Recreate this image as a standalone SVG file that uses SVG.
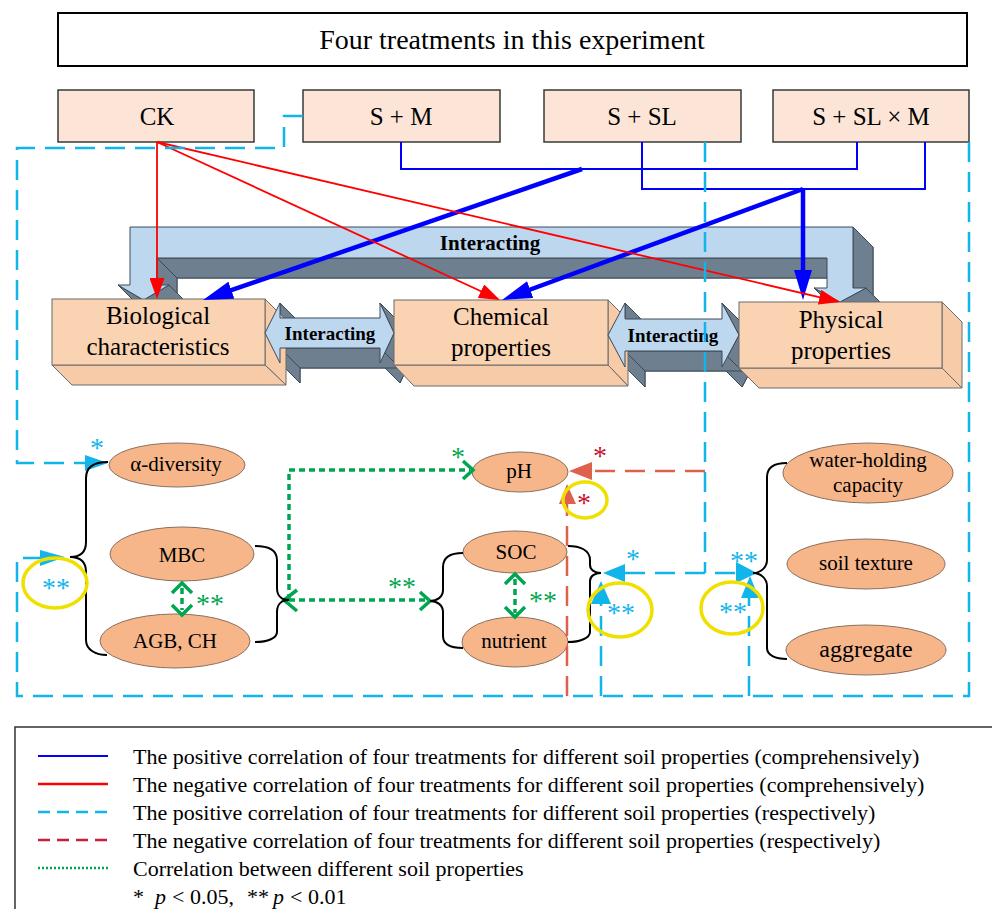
<svg xmlns="http://www.w3.org/2000/svg" width="992" height="909" viewBox="0 0 992 909">
<defs>
<style>
text{font-family:"Liberation Serif","Times New Roman","DejaVu Serif",serif;fill:#000}
.tbox{fill:#FCE4D6;stroke:#3a3a3a;stroke-width:1.5}
.front{fill:#FAD3B2;stroke:#6a6a6a;stroke-width:1}
.side{fill:#F7CBA8;stroke:#6a6a6a;stroke-width:1}
.lb{fill:#BDD7EE;stroke:#3c4a58;stroke-width:1}
.dk{fill:#6E7F8F;stroke:#3c4a58;stroke-width:1;stroke-linejoin:round}
.ell{fill:#F6B68A;stroke:#8a7060;stroke-width:1}
.et{font-size:21px;text-anchor:middle}
.bt{font-size:25px;text-anchor:middle}
.it{font-size:19px;font-weight:bold;text-anchor:middle}
.blue{stroke:#0000FF;fill:none}
.red{stroke:#FF0000;fill:none;stroke-width:1.8}
.cy{stroke:#12B5EA;fill:none;stroke-width:2.5;stroke-dasharray:20 10}
.rd{stroke:#E0604E;fill:none;stroke-width:2.5;stroke-dasharray:20 10}
.gr{stroke:#00A550;fill:none;stroke-width:3.5;stroke-dasharray:6 4}
.chev{stroke:#00A550;fill:none;stroke-width:3.5}
.br{stroke:#000;fill:none;stroke-width:2}
.cyf{fill:#12B5EA}
.rdf{fill:#E0604E}
.st{font-size:28px;text-anchor:middle}
.sc{fill:#12B5EA}
.sg{fill:#00A550}
.sr{fill:#C8102E}
.yc{fill:none;stroke:#F0E000;stroke-width:3.5}
.lg{font-size:22px}
</style>
<marker id="ab" viewBox="0 0 30 18" refX="20" refY="9" markerWidth="30" markerHeight="18" markerUnits="userSpaceOnUse" orient="auto"><path d="M0,0 L30,9 L0,18 z" fill="#0000FF"/></marker>
<marker id="ar" viewBox="0 0 21 15" refX="18" refY="7.5" markerWidth="21" markerHeight="15" markerUnits="userSpaceOnUse" orient="auto"><path d="M0,0 L21,7.5 L0,15 z" fill="#FF0000"/></marker>
</defs>
<rect width="992" height="909" fill="#fff"/>

<g id="title">
<rect x="58" y="13" width="909" height="53" fill="#fff" stroke="#000" stroke-width="2"/>
<text x="512" y="49" font-size="28" text-anchor="middle">Four treatments in this experiment</text>
</g>

<g id="ck"><rect class="tbox" x="58" y="90" width="196" height="52"/><text class="bt" x="157" y="125">CK</text></g>
<g id="s-m"><rect class="tbox" x="303" y="90" width="197" height="52"/><text class="bt" x="401" y="125">S + M</text></g>
<g id="s-sl"><rect class="tbox" x="544" y="90" width="197" height="52"/><text class="bt" x="642" y="125">S + SL</text></g>
<g id="s-sl-m"><rect class="tbox" x="773" y="90" width="196" height="52"/><text class="bt" x="871" y="125">S + SL × M</text></g>

<g id="interacting-top">
<polygon class="dk" points="150,247 873,247 873,308 886,308 860,322 834,308 847,308 847,278 177,278 177,305 189,305 163.5,320 138,305 150,305"/>
<polygon class="dk" points="853,227 853,288 873,308 873,247"/>
<polygon class="dk" points="866,288 840,302 860,322 886,308"/>
<polygon class="dk" points="840,302 814,288 834,308 860,322"/>
<polygon class="dk" points="827,258 157,258 177,278 847,278"/>
<polygon class="dk" points="157,258 157,285 177,305 177,278"/>
<polygon class="dk" points="169,285 143.5,300 163.5,320 189,305"/>
<polygon class="dk" points="143.5,300 118,285 138,305 163.5,320"/>
<polygon class="lb" points="130,227 853,227 853,288 866,288 840,302 814,288 827,288 827,258 157,258 157,285 169,285 143.5,300 118,285 130,285"/>
<text x="490" y="250" font-size="21" font-weight="bold" text-anchor="middle">Interacting</text>
</g>

<g id="interacting-bio-chem-depth">
<polygon class="dk" points="285,353 300,323 300,338 400,338 400,323 414,353 400,383 400,368 300,368 300,383"/>
<polygon class="dk" points="280,303 280,318 300,338 300,323"/>
<polygon class="dk" points="380,303 394,333 414,353 400,323"/>
<polygon class="dk" points="394,333 380,363 400,383 414,353"/>
<polygon class="dk" points="380,348 280,348 300,368 400,368"/>
<polygon class="dk" points="280,348 280,363 300,383 300,368"/>
</g>
<g id="interacting-chem-phys-depth">
<polygon class="dk" points="628,355 645,323 645,339 742,339 742,323 759,355 742,387 742,371 645,371 645,387"/>
<polygon class="dk" points="625,303 625,319 645,339 645,323"/>
<polygon class="dk" points="722,303 739,335 759,355 742,323"/>
<polygon class="dk" points="739,335 722,367 742,387 759,355"/>
<polygon class="dk" points="722,351 625,351 645,371 742,371"/>
<polygon class="dk" points="625,351 625,367 645,387 645,371"/>
</g>

<g id="biological">
<polygon class="side" points="265,299 286,320 286,385 265,365"/>
<polygon class="side" points="52,365 265,365 286,385 72,385"/>
<rect class="front" x="52" y="299" width="213" height="66"/>
<text class="bt" x="158" y="324">Biological</text>
<text class="bt" x="158" y="355">characteristics</text>
</g>
<g id="chemical">
<polygon class="side" points="608,300 628,320 628,386 608,365"/>
<polygon class="side" points="394,365 608,365 628,386 414,386"/>
<rect class="front" x="394" y="300" width="214" height="65"/>
<text class="bt" x="501" y="325">Chemical</text>
<text class="bt" x="501" y="356">properties</text>
</g>
<g id="physical">
<polygon class="side" points="942,302 962,322 962,388 942,368"/>
<polygon class="side" points="739,368 942,368 962,388 759,388"/>
<rect class="front" x="739" y="302" width="203" height="66"/>
<text class="bt" x="841" y="328">Physical</text>
<text class="bt" x="841" y="359">properties</text>
</g>

<g id="interacting-bio-chem">
<polygon class="lb" points="265,333 280,303 280,318 380,318 380,303 394,333 380,363 380,348 280,348 280,363"/>
<text class="it" x="330" y="340">Interacting</text>
</g>
<g id="interacting-chem-phys">
<polygon class="lb" points="608,335 625,303 625,319 722,319 722,303 739,335 722,367 722,351 625,351 625,367"/>
<text class="it" x="673" y="342">Interacting</text>
</g>

<g id="alpha-diversity"><ellipse class="ell" cx="177" cy="465" rx="68" ry="22"/><text class="et" x="176" y="471">α-diversity</text></g>
<g id="mbc"><ellipse class="ell" cx="182" cy="554" rx="72" ry="27"/><text class="et" x="182" y="562">MBC</text></g>
<g id="agb-ch"><ellipse class="ell" cx="175" cy="641" rx="75" ry="27"/><text class="et" x="175" y="648">AGB, CH</text></g>
<g id="ph"><ellipse class="ell" cx="520" cy="472" rx="48" ry="20"/><text class="et" x="519" y="478">pH</text></g>
<g id="soc"><ellipse class="ell" cx="515" cy="552" rx="52" ry="21"/><text class="et" x="516" y="559">SOC</text></g>
<g id="nutrient"><ellipse class="ell" cx="515" cy="642" rx="53" ry="25"/><text class="et" x="514" y="648">nutrient</text></g>
<g id="water-holding"><ellipse class="ell" cx="868" cy="473" rx="85" ry="30"/><text class="et" x="868" y="467">water-holding</text><text class="et" x="868" y="492">capacity</text></g>
<g id="soil-texture"><ellipse class="ell" cx="866" cy="564" rx="79" ry="25"/><text class="et" x="866" y="570">soil texture</text></g>
<g id="aggregate"><ellipse class="ell" cx="866" cy="650" rx="80" ry="25"/><text x="866" y="657" font-size="24" text-anchor="middle">aggregate</text></g>

<g id="connectors">
<path class="blue" stroke-width="2" d="M401,142 V169 H857 V142"/>
<path class="blue" stroke-width="2" d="M642,142 V189 H925 V142"/>
<path class="blue" stroke-width="4.5" marker-end="url(#ab)" d="M582,169 L212.5,296.7"/>
<path class="blue" stroke-width="4.5" marker-end="url(#ab)" d="M803,189 V290"/>
<path class="blue" stroke-width="4.5" marker-end="url(#ab)" d="M803,189 L511.4,296.5"/>
<path class="red" marker-end="url(#ar)" d="M157,142 V296"/>
<path class="red" marker-end="url(#ar)" d="M157,142 L497.3,298.7"/>
<path class="red" marker-end="url(#ar)" d="M157,142 L837.1,301.3"/>

<path class="cy" d="M303,116 H284 V148 H17 V463 H86"/>
<path class="cy" d="M969,142 V696 H17 V558 H42"/>
<path class="cy" d="M705,142 V573"/>
<path class="cy" d="M625,573 H736"/>
<path class="cy" d="M601,696 V604"/>
<path class="cy" d="M749,696 V598"/>
<polygon class="cyf" points="85,455 108,463 85,471"/>
<polygon class="cyf" points="40,550 65,557 40,566"/>
<polygon class="cyf" points="625,564 603,573 625,582"/>
<polygon class="cyf" points="591,604 601,581 611,604"/>
<polygon class="cyf" points="736,562 757,573 736,583"/>
<polygon class="cyf" points="741,598 750,576 759,598"/>

<path class="rd" d="M705,471 H592"/>
<path class="rd" d="M567,696 V504"/>
<polygon class="rdf" points="592,462 569,471 592,480"/>
<polygon class="rdf" points="559,504 567,484 576,504"/>

<path class="gr" d="M289,600 V470 H470"/>
<path class="gr" d="M289,600 H427"/>
<path class="gr" d="M182,588 V610"/>
<path class="gr" d="M515,579 V613"/>
<path class="chev" d="M463,461 L473,470 L463,479"/>
<path class="chev" d="M420,592 L430,601 L420,610"/>
<path class="chev" d="M297,590 L284,600 L297,611"/>
<path class="chev" d="M172,593 L182,583 L192,593"/>
<path class="chev" d="M172,605 L182,615 L192,605"/>
<path class="chev" d="M505,584 L515,574 L525,584"/>
<path class="chev" d="M505,607 L515,617 L525,607"/>

<path class="br" d="M108,462 C96,462 86,466 86,478 V542 C86,552 80,557 70,557 C80,557 86,562 86,572 V640 C86,650 96,655 107,655"/>
<path class="br" d="M255,546 C268,546 277,550 277,560 V588 C277,596 282,600 289,600 C282,600 277,604 277,612 V632 C277,638 268,642 255,642"/>
<path class="br" d="M463,553 C450,553 443,557 443,567 V590 C443,597 437,601 430,601 C437,601 443,605 443,612 V636 C443,644 450,648 463,648"/>
<path class="br" d="M568,546 C580,546 590,550 590,560 V565 C590,570 595,573 601,573 C595,573 590,576 590,581 V632 C590,638 580,642 568,642"/>
<path class="br" d="M787,463 C775,463 767,467 767,477 V560 C767,567 761,573 753,573 C761,573 767,579 767,586 V648 C767,655 775,659 787,659"/>
</g>

<g id="significance">
<ellipse class="yc" cx="55" cy="583" rx="32" ry="25"/>
<ellipse class="yc" cx="585" cy="500" rx="22" ry="18"/>
<ellipse class="yc" cx="620" cy="610" rx="32" ry="27"/>
<ellipse class="yc" cx="732" cy="608" rx="31" ry="26"/>
<text class="st sc" x="97" y="457">*</text>
<text class="st sc" x="56" y="597">**</text>
<text class="st sg" x="210" y="613">**</text>
<text class="st sg" x="458" y="466">*</text>
<text class="st sr" x="600" y="465">*</text>
<text class="st sr" x="584" y="512">*</text>
<text class="st sg" x="402" y="596">**</text>
<text class="st sg" x="543" y="610">**</text>
<text class="st sc" x="633" y="568">*</text>
<text class="st sc" x="621" y="622">**</text>
<text class="st sc" x="744" y="570">**</text>
<text class="st sc" x="733" y="621">**</text>
</g>

<g id="legend">
<rect x="15" y="727" width="990" height="200" fill="#fff" stroke="#333" stroke-width="1.5"/>
<path d="M38,756 H108" stroke="#0000FF" stroke-width="2"/>
<path d="M38,784 H108" stroke="#FF0000" stroke-width="2.5"/>
<path d="M38,812 H108" stroke="#12B5EA" stroke-width="2.5" stroke-dasharray="12 7"/>
<path d="M38,840 H108" stroke="#C8203A" stroke-width="2.5" stroke-dasharray="12 7"/>
<path d="M38,868 H108" stroke="#00A550" stroke-width="2.5" stroke-dasharray="2 2"/>
<text class="lg" x="133" y="764">The positive correlation of four treatments for different soil properties (comprehensively)</text>
<text class="lg" x="133" y="792">The negative correlation of four treatments for different soil properties (comprehensively)</text>
<text class="lg" x="133" y="820">The positive correlation of four treatments for different soil properties (respectively)</text>
<text class="lg" x="133" y="848">The negative correlation of four treatments for different soil properties (respectively)</text>
<text class="lg" x="133" y="876">Correlation between different soil properties</text>
<text class="lg" y="904"><tspan x="133">*</tspan><tspan x="155" font-style="italic">p</tspan><tspan x="172">&lt; 0.05,</tspan><tspan x="247">**</tspan><tspan x="273" font-style="italic">p</tspan><tspan x="290">&lt; 0.01</tspan></text>
</g>
</svg>
